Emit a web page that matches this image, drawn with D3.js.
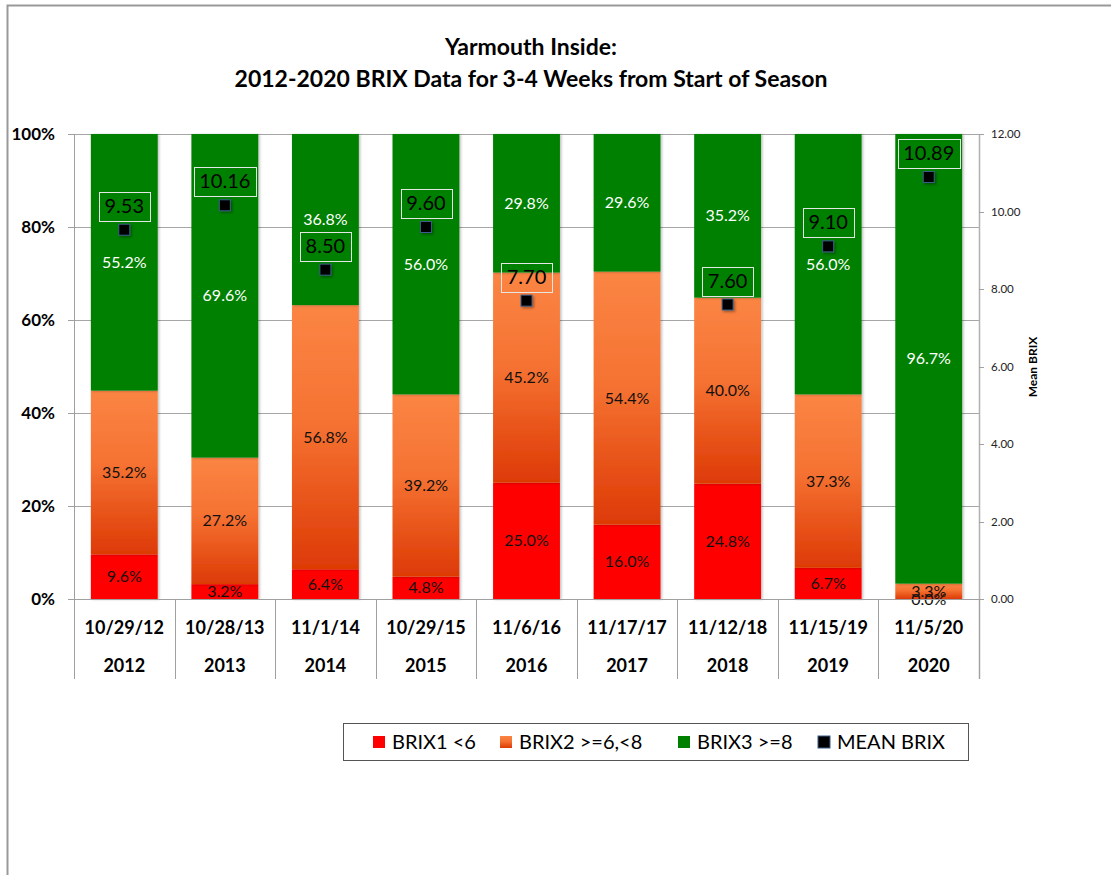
<!DOCTYPE html>
<html>
<head>
<meta charset="utf-8">
<script src="https://cdn.jsdelivr.net/npm/d3@7"></script>
<style>
  html, body { margin: 0; padding: 0; background: #fff; }
  svg { display: block; font-family: Lato, "Open Sans", sans-serif; }
</style>
</head>
<body>
<svg id="chart" width="1111" height="875"></svg>
<script>
// Sampling dates and seasons
const dates = ["10/29/12", "10/28/13", "11/1/14", "10/29/15", "11/6/16", "11/17/17", "11/12/18", "11/15/19", "11/5/20"];
const years = ["2012", "2013", "2014", "2015", "2016", "2017", "2018", "2019", "2020"];

// Share of samples in each BRIX class (%)
const brix1 = [9.6, 3.2, 6.4, 4.8, 25.0, 16.0, 24.8, 6.7, 0.0];
const brix2 = [35.2, 27.2, 56.8, 39.2, 45.2, 54.4, 40.0, 37.3, 3.3];
const brix3 = [55.2, 69.6, 36.8, 56.0, 29.8, 29.6, 35.2, 56.0, 96.7];

// Mean BRIX per season (no value recorded for 2017)
const meanBrix = [9.53, 10.16, 8.50, 9.60, 7.70, null, 7.60, 9.10, 10.89];

const leftTicks = [0, 20, 40, 60, 80, 100];
const rightTicks = [0, 2, 4, 6, 8, 10, 12];

const seriesNames = ["BRIX1 <6", "BRIX2 >=6,<8", "BRIX3 >=8", "MEAN BRIX"];

const svg = d3.select("#chart");

// outer frame
svg.append("rect")
  .attr("x", 7.5).attr("y", 5.5)
  .attr("width", 1120).attr("height", 900)
  .attr("fill", "none").attr("stroke", "#999").attr("stroke-width", 2);

// title
const title = svg.append("text")
  .attr("text-anchor", "middle")
  .attr("font-weight", "bold")
  .attr("font-size", 23)
  .attr("fill", "#000");
title.append("tspan").attr("x", 531).attr("y", 55).text("Yarmouth Inside:");
title.append("tspan").attr("x", 531).attr("y", 87).text("2012-2020 BRIX Data for 3-4 Weeks from Start of Season");

const plot = { left: 74, right: 979, top: 134, bottom: 599 };

const x = d3.scaleBand().domain(years).range([plot.left, plot.right]).padding(0);
const y = d3.scaleLinear().domain([0, 100]).range([plot.bottom, plot.top]);
const y2 = d3.scaleLinear().domain([0, 12]).range([plot.bottom, plot.top]);

// gridlines
svg.append("g").selectAll("line").data(leftTicks.filter(d => d > 0)).join("line")
  .attr("x1", plot.left).attr("x2", plot.right)
  .attr("y1", d => Math.round(y(d)) + 0.5).attr("y2", d => Math.round(y(d)) + 0.5)
  .attr("stroke", "#a6a6a6").attr("stroke-width", 1);

// orange gradient for BRIX2
const defs = svg.append("defs");
const grad = defs.append("linearGradient")
  .attr("id", "orangeGrad").attr("x1", 0).attr("y1", 0).attr("x2", 0).attr("y2", 1);
grad.append("stop").attr("offset", "0%").attr("stop-color", "#FB8544");
grad.append("stop").attr("offset", "45%").attr("stop-color", "#F57232");
grad.append("stop").attr("offset", "100%").attr("stop-color", "#DD3A05");

const shadow = defs.append("filter").attr("id", "shadow")
  .attr("x", "-30%").attr("y", "-30%").attr("width", "170%").attr("height", "170%");
shadow.append("feDropShadow").attr("dx", 1.5).attr("dy", 1.5).attr("stdDeviation", 1.2)
  .attr("flood-color", "#000").attr("flood-opacity", 0.35);

const barShadow = defs.append("filter").attr("id", "barShadow")
  .attr("x", "-10%").attr("y", "-5%").attr("width", "130%").attr("height", "110%");
barShadow.append("feDropShadow").attr("dx", 1.5).attr("dy", 0.5).attr("stdDeviation", 0.8)
  .attr("flood-color", "#000").attr("flood-opacity", 0.25);

const barW = x.bandwidth() * 0.665;
const rows = years.map((yr, i) => ({ yr, date: dates[i], b1: brix1[i], b2: brix2[i], b3: brix3[i], mean: meanBrix[i] }));

const stack = d3.stack().keys(["b1", "b2", "b3"])(rows);
const fills = { b1: "#FF0000", b2: "url(#orangeGrad)", b3: "#008000" };
const labelColor = { b1: "#111", b2: "#111", b3: "#fff" };

const barG = svg.append("g");
stack.forEach(layer => {
  barG.append("g").selectAll("rect").data(layer).join("rect")
    .attr("x", d => x(d.data.yr) + (x.bandwidth() - barW) / 2)
    .attr("y", d => y(d[1]))
    .attr("width", barW)
    .attr("height", d => y(d[0]) - y(d[1]))
    .attr("fill", fills[layer.key])
    .attr("filter", "url(#barShadow)");
});

// segment labels
stack.forEach(layer => {
  svg.append("g").selectAll("text").data(layer).join("text")
    .attr("x", d => x(d.data.yr) + x.bandwidth() / 2)
    .attr("y", d => (y(d[0]) + y(d[1])) / 2)
    .attr("dy", "0.35em")
    .attr("text-anchor", "middle")
    .attr("font-size", 16)
    .attr("fill", labelColor[layer.key])
    .text(d => d.data[layer.key].toFixed(1) + "%");
});

// left axis
const axL = svg.append("g");
axL.append("line").attr("x1", plot.left + 0.5).attr("x2", plot.left + 0.5)
  .attr("y1", plot.top).attr("y2", 679).attr("stroke", "#a0a0a0");
axL.selectAll("line.t").data(leftTicks).join("line").attr("class", "t")
  .attr("x1", plot.left - 6).attr("x2", plot.left)
  .attr("y1", d => Math.round(y(d)) + 0.5).attr("y2", d => Math.round(y(d)) + 0.5)
  .attr("stroke", "#a0a0a0");
axL.selectAll("text").data(leftTicks).join("text")
  .attr("x", 55).attr("y", d => y(d)).attr("dy", "0.35em")
  .attr("text-anchor", "end").attr("font-weight", "bold").attr("font-size", 17)
  .text(d => d + "%");

// right axis
const axR = svg.append("g");
axR.append("line").attr("x1", plot.right + 0.5).attr("x2", plot.right + 0.5)
  .attr("y1", plot.top).attr("y2", 679).attr("stroke", "#b0b0b0").attr("stroke-width", 1.5);
axR.selectAll("line.t").data(rightTicks).join("line").attr("class", "t")
  .attr("x1", plot.right).attr("x2", plot.right + 5)
  .attr("y1", d => Math.round(y2(d)) + 0.5).attr("y2", d => Math.round(y2(d)) + 0.5)
  .attr("stroke", "#a0a0a0");
axR.selectAll("text").data(rightTicks).join("text")
  .attr("x", 991).attr("y", d => y2(d)).attr("dy", "0.35em")
  .attr("font-size", 11.5).attr("fill", "#222")
  .text(d => d.toFixed(2));
svg.append("text")
  .attr("transform", "translate(1037,367) rotate(-90)")
  .attr("text-anchor", "middle").attr("font-weight", "bold").attr("font-size", 12)
  .text("Mean BRIX");

// baseline and multi-level category axis
svg.append("line").attr("x1", plot.left - 6).attr("x2", plot.right + 5)
  .attr("y1", plot.bottom + 0.5).attr("y2", plot.bottom + 0.5).attr("stroke", "#a0a0a0");
const bounds = years.map(d => x(d)).concat([plot.right]);
svg.append("g").selectAll("line").data(bounds).join("line")
  .attr("x1", d => Math.round(d) + 0.5).attr("x2", d => Math.round(d) + 0.5)
  .attr("y1", plot.bottom).attr("y2", 679)
  .attr("stroke", "#a0a0a0");
const cat = svg.append("g").attr("font-weight", "bold").attr("font-size", 18).attr("text-anchor", "middle");
cat.selectAll("text.d").data(rows).join("text").attr("class", "d")
  .attr("x", d => x(d.yr) + x.bandwidth() / 2).attr("y", 634)
  .text(d => d.date);
cat.selectAll("text.y").data(rows).join("text").attr("class", "y")
  .attr("x", d => x(d.yr) + x.bandwidth() / 2).attr("y", 672)
  .text(d => d.yr);

// mean BRIX markers and boxed labels
const means = rows.filter(d => d.mean != null);
const mg = svg.append("g");
mg.selectAll("rect.m").data(means).join("rect").attr("class", "m")
  .attr("x", d => x(d.yr) + x.bandwidth() / 2 - 5.5)
  .attr("y", d => y2(d.mean) - 5.5)
  .attr("width", 11).attr("height", 11)
  .attr("fill", "#000").attr("stroke", "#3A5F8A").attr("stroke-width", 1)
  .attr("filter", "url(#shadow)");

const lbl = mg.selectAll("g.l").data(means).join("g").attr("class", "l");
const lblBox = lbl.append("rect")
  .attr("fill", "none").attr("stroke", "#e6e6e6").attr("stroke-width", 1);
const lblText = lbl.append("text")
  .attr("x", d => x(d.yr) + x.bandwidth() / 2)
  .attr("y", d => y2(d.mean) - 24)
  .attr("dy", "0.35em").attr("text-anchor", "middle")
  .attr("font-size", 20).attr("fill", "#000")
  .text(d => d.mean.toFixed(2));
lblText.each(function (d) {
  const w = this.getComputedTextLength() + 11;
  const cx = x(d.yr) + x.bandwidth() / 2;
  d3.select(this.parentNode).select("rect")
    .attr("x", Math.round(cx - w / 2) + 0.5)
    .attr("y", Math.round(y2(d.mean) - 38) + 0.5)
    .attr("width", Math.round(w))
    .attr("height", 29);
});

// legend
const lg = svg.append("g");
lg.append("rect").attr("x", 343.5).attr("y", 723.5).attr("width", 625).attr("height", 37)
  .attr("fill", "#fff").attr("stroke", "#555").attr("stroke-width", 1);
const legendItems = [
  { name: seriesNames[0], fill: "#FF0000", x: 373 },
  { name: seriesNames[1], fill: "url(#orangeGrad)", x: 500 },
  { name: seriesNames[2], fill: "#008000", x: 678 },
  { name: seriesNames[3], fill: "#000", x: 818, mean: true }
];
const li = lg.selectAll("g.i").data(legendItems).join("g").attr("class", "i");
li.append("rect")
  .attr("x", d => d.x).attr("y", 736)
  .attr("width", 12).attr("height", 12)
  .attr("fill", d => d.fill)
  .attr("stroke", d => d.mean ? "#3A5F8A" : "none");
li.append("text")
  .attr("x", d => d.x + 19).attr("y", 742).attr("dy", "0.35em")
  .attr("font-size", 20).attr("fill", "#000")
  .text(d => d.name);
</script>
</body>
</html>
